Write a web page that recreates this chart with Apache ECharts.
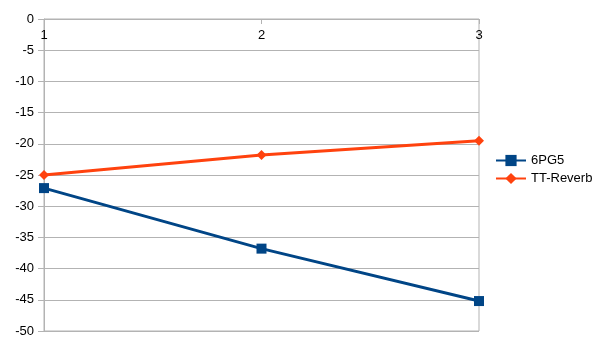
<!DOCTYPE html>
<html>
<head>
<meta charset="utf-8">
<script src="https://cdn.jsdelivr.net/npm/echarts@6/dist/echarts.min.js"></script>
<style>html,body{margin:0;padding:0;background:#fff}#c{width:604px;height:340px}</style>
</head>
<body>
<div id="c"></div>
<script>
const categories = ['1', '2', '3'];
const seriesNames = ['6PG5', 'TT-Reverb'];
const pg5 = [-27.1, -36.8, -45.2];
const ttReverb = [-25.0, -21.8, -19.5];
const yMin = -50, yMax = 0, yStep = 5;

const chart = echarts.init(document.getElementById('c'), null, {renderer: 'canvas'});
const font = 'Liberation Sans';
chart.setOption({
  animation: false,
  backgroundColor: '#fff',
  grid: {left: 44, right: 125, top: 19, bottom: 9, show: true, borderColor: '#b3b3b3', borderWidth: 1, containLabel: false},
  legend: {
    orient: 'vertical', left: 495, top: 154, padding: 0, itemWidth: 30, itemHeight: 14, itemGap: 5,
    textStyle: {fontFamily: font, fontSize: 13, color: '#000'},
    data: seriesNames
  },
  xAxis: {
    type: 'category', data: categories, boundaryGap: false, position: 'top',
    axisLine: {lineStyle: {color: '#b3b3b3', width: 1}},
    axisTick: {inside: true, length: 5, lineStyle: {color: '#b3b3b3'}},
    axisLabel: {inside: true, margin: 10, fontFamily: font, fontSize: 13, color: '#000'},
    splitLine: {show: false}
  },
  yAxis: {
    type: 'value', min: yMin, max: yMax, interval: yStep,
    axisLine: {show: true, lineStyle: {color: '#b3b3b3', width: 1}},
    axisTick: {show: true, length: 6, lineStyle: {color: '#b3b3b3'}},
    axisLabel: {margin: 10, fontFamily: font, fontSize: 13, color: '#000'},
    splitLine: {lineStyle: {color: '#b3b3b3', width: 1}}
  },
  series: [
    {name: seriesNames[0], type: 'line', data: pg5, symbol: 'rect', symbolSize: 10,
     lineStyle: {color: '#004586', width: 3}, itemStyle: {color: '#004586'}},
    {name: seriesNames[1], type: 'line', data: ttReverb, symbol: 'diamond', symbolSize: 10,
     lineStyle: {color: '#ff420e', width: 3}, itemStyle: {color: '#ff420e'}}
  ]
});
</script>
</body>
</html>
